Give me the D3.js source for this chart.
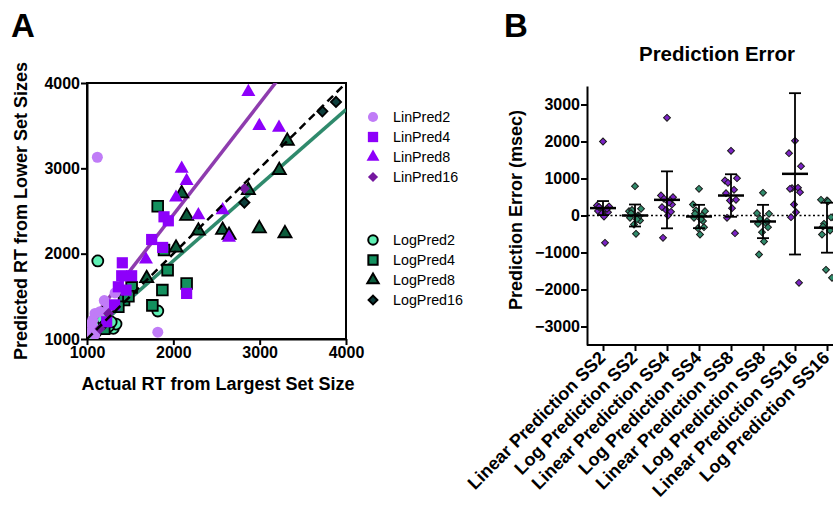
<!DOCTYPE html>
<html><head><meta charset="utf-8">
<script src="https://cdn.jsdelivr.net/npm/d3@7"></script>
<style>
body{margin:0;background:#fff;}
svg{display:block;font-family:"Liberation Sans",Arial,Helvetica,sans-serif;}
</style></head>
<body><svg id="c" width="833" height="509"></svg>
<script>
// ---------- Panel A data ----------
const tickA = [1000, 2000, 3000, 4000];
const linPred2X = [1120,1820,1200,1325,1093,1066,1073,1050,1150,1090,1030,1250];
const linPred2Y = [3130,1080,1450,1540,1300,1220,1125,1180,1320,1050,1080,1380];
const linPred4X = [1409,1402,1517,1363,1452,1749,1892,1942,1876,2154,1228,1320];
const linPred4Y = [1893,1741,1741,1612,1573,2166,2432,2385,2073,1534,1202,1400];
const linPred8X = [2869,2996,3224,2097,2154,2031,2290,2571,2645,1683];
const linPred8Y = [3895,3497,3477,2997,2853,2658,2451,2510,2186,1932];
const linPred16X = [2823,1150,1250];
const linPred16Y = [2764,1120,1300];
const logPred2X = [1125,1820,1209,1305,1336,1073,1150,1250,1100,1180,1050,1280];
const logPred2Y = [1915,1328,1319,1125,1175,995,1180,1150,1080,1230,1050,1200];
const logPred4X = [1819,1892,1934,2154,1873,1757,1517,1429,1363,1200,1480];
const logPred4Y = [2556,2042,1807,1651,1573,1394,1605,1456,1378,1120,1500];
const logPred8X = [3320,3227,2869,2097,2154,2290,2571,2645,2996,3293,2031,1691];
const logPred8Y = [3321,2978,2743,2705,2440,2268,2276,2217,2295,2237,2069,1710];
const logPred16X = [3884,3726,2823,1200,1100];
const logPred16Y = [3778,3668,2599,1180,1060];
// fit lines: [intercept at x=1000, slope]
const linFit = [1150, 1.306];
const logFit = [1030, 0.886];
const seriesNames = ["LinPred2","LinPred4","LinPred8","LinPred16","LogPred2","LogPred4","LogPred8","LogPred16"];

// ---------- Panel B data ----------
const categoriesB = ["Linear Prediction SS2","Log Prediction SS2","Linear Prediction SS4","Log Prediction SS4","Linear Prediction SS8","Log Prediction SS8","Linear Prediction SS16","Log Prediction SS16"];
const errLinSS2 = [2000,270,243,200,160,120,90,60,-27,230,180,-739];
const errLogSS2 = [793,117,180,150,0,-60,-135,-243,-495,60,-20,-100];
const errLinSS4 = [2640,540,495,450,405,225,300,150,0,-604,100,350];
const errLogSS4 = [720,297,117,135,0,-63,-315,-342,-514,50,-150,-100];
const errLinSS8 = [1748,946,1009,883,694,604,423,405,198,-63,-477];
const errLogSS8 = [613,63,45,-90,-207,-225,-315,-450,-703,-1054,-150];
const errLinSS16 = [2018,1685,1333,739,748,721,630,297,90,-45,-1820];
const errLogSS16 = [405,423,-45,-225,-405,-514,-1685,-1468,380,-300,-50];
const meansB = [200,0,423,-27,540,-162,1126,-330];
const errBarB = [190,297,770,315,575,450,2180,675];
const tickB = [-3000,-2000,-1000,0,1000,2000,3000];

const svg = d3.select("#c");
const fmt = d3.format("d");

// ================= Panel A =================
const xA = d3.scaleLinear().domain([1000,4000]).range([87,346]);
const yA = d3.scaleLinear().domain([1000,4000]).range([339,83]);

svg.append("text").attr("x",11).attr("y",37).attr("font-size",33).attr("font-weight","bold")
  .attr("font-family","'Liberation Sans Narrow','Arial Narrow','Liberation Sans',sans-serif").text("A");
svg.append("text").attr("x",504).attr("y",37).attr("font-size",33).attr("font-weight","bold")
  .attr("font-family","'Liberation Sans Narrow','Arial Narrow','Liberation Sans',sans-serif").text("B");

svg.append("clipPath").attr("id","clipA").append("rect")
  .attr("x",87).attr("y",83).attr("width",259).attr("height",256);

const gA = svg.append("g");
gA.append("rect").attr("x",87).attr("y",83).attr("width",259).attr("height",256)
  .attr("fill","none").attr("stroke","#000").attr("stroke-width",2);

const axL = gA.append("g").attr("transform","translate(87,0)")
  .call(d3.axisLeft(yA).tickValues(tickA).tickFormat(fmt).tickSize(6).tickSizeOuter(0).tickPadding(1));
const axB = gA.append("g").attr("transform","translate(0,339)")
  .call(d3.axisBottom(xA).tickValues(tickA).tickFormat(fmt).tickSize(6).tickSizeOuter(0).tickPadding(2));
[axL,axB].forEach(a=>{
  a.select(".domain").attr("stroke-width",2);
  a.selectAll(".tick line").attr("stroke-width",2);
  a.selectAll(".tick text").attr("font-size",16).attr("font-weight","bold").attr("fill","#000")
   .attr("font-family","'Liberation Sans',Arial,sans-serif");
});

svg.append("text").attr("transform","translate(27,211) rotate(-90)").attr("text-anchor","middle")
  .attr("font-size",18).attr("font-weight","bold").text("Predicted RT from Lower Set Sizes");
svg.append("text").attr("x",218).attr("y",390).attr("text-anchor","middle")
  .attr("font-size",18).attr("font-weight","bold").text("Actual RT from Largest Set Size");

const plotA = gA.append("g").attr("clip-path","url(#clipA)");
const fitLine = (f)=>[[1000,f[0]],[4000,f[0]+3000*f[1]]];
const lineA = d3.line().x(d=>xA(d[0])).y(d=>yA(d[1]));
plotA.append("path").attr("d",lineA(fitLine(linFit))).attr("stroke","#8e3cae").attr("stroke-width",3.5).attr("fill","none");
plotA.append("path").attr("d",lineA(fitLine(logFit))).attr("stroke","#2f8a6c").attr("stroke-width",3.5).attr("fill","none");

const seriesA = [
  {n:"LogPred2", x:logPred2X, y:logPred2Y, sym:d3.symbolCircle, size:95, fill:"#5ff0b4", stroke:"#000", rot:0},
  {n:"LogPred4", x:logPred4X, y:logPred4Y, sym:d3.symbolSquare, size:115, fill:"#13905e", stroke:"#000", rot:0},
  {n:"LogPred8", x:logPred8X, y:logPred8Y, sym:d3.symbolTriangle, size:75, fill:"#0c5c3c", stroke:"#000", rot:0},
  {n:"LogPred16", x:logPred16X, y:logPred16Y, sym:d3.symbolSquare, size:52, fill:"#0d3d3b", stroke:"#000", rot:45},
  {n:"LinPred2", x:linPred2X, y:linPred2Y, sym:d3.symbolCircle, size:95, fill:"#c07cf7", stroke:"none", rot:0},
  {n:"LinPred4", x:linPred4X, y:linPred4Y, sym:d3.symbolSquare, size:125, fill:"#8d00fa", stroke:"none", rot:0},
  {n:"LinPred8", x:linPred8X, y:linPred8Y, sym:d3.symbolTriangle, size:85, fill:"#8d00fa", stroke:"none", rot:0},
  {n:"LinPred16", x:linPred16X, y:linPred16Y, sym:d3.symbolSquare, size:60, fill:"#75189f", stroke:"none", rot:45}
];
seriesA.forEach(s=>{
  plotA.append("g").selectAll("path").data(s.x.map((v,i)=>[v,s.y[i]])).join("path")
    .attr("d",d3.symbol(s.sym,s.size))
    .attr("transform",d=>`translate(${xA(d[0])},${yA(d[1])}) rotate(${s.rot})`)
    .attr("fill",s.fill).attr("stroke",s.stroke).attr("stroke-width",1.8);
});
plotA.append("path").attr("d",lineA([[1000,1000],[4000,4000]])).attr("stroke","#000")
  .attr("stroke-width",2.5).attr("stroke-dasharray","8,5").attr("fill","none");

// legend
const legOrder = ["LinPred2","LinPred4","LinPred8","LinPred16","LogPred2","LogPred4","LogPred8","LogPred16"];
const legY = [117,137,157,177,240,260,280,300];
legOrder.forEach((nm,i)=>{
  const s = seriesA.find(q=>q.n===nm);
  const g = svg.append("g").attr("transform",`translate(373,${legY[i]})`);
  const small = s.stroke==="none" ? 0.85 : 0.75;
  g.append("path").attr("d",d3.symbol(s.sym,s.size*small)).attr("transform",`rotate(${s.rot})`)
    .attr("fill",s.fill).attr("stroke",s.stroke).attr("stroke-width",2);
  g.append("text").attr("x",20).attr("y",5).attr("font-size",14.3).text(nm);
});

// ================= Panel B =================
const xB = d3.scalePoint().domain(categoriesB).range([603,827]);
const yB = d3.scaleLinear().domain([-3500,3500]).range([345,86]);

svg.append("text").attr("x",717).attr("y",61).attr("text-anchor","middle").attr("font-size",20.5)
  .attr("font-weight","bold").text("Prediction Error");
svg.append("text").attr("transform","translate(522,210) rotate(-90)").attr("text-anchor","middle")
  .attr("font-size",18).attr("font-weight","bold").text("Prediction Error (msec)");

const axLB = svg.append("g").attr("transform","translate(587,0)")
  .call(d3.axisLeft(yB).tickValues(tickB).tickFormat(fmt).tickSize(6).tickSizeOuter(0).tickPadding(1));
const axBB = svg.append("g").attr("transform","translate(0,345)")
  .call(d3.axisBottom(xB).tickSize(6).tickSizeOuter(0));
axBB.select(".domain").attr("d","M587,0H843");
[axLB,axBB].forEach(a=>{
  a.select(".domain").attr("stroke-width",2);
  a.selectAll(".tick line").attr("stroke-width",2);
  a.selectAll(".tick text").attr("font-size",16).attr("font-weight","bold").attr("fill","#000")
   .attr("font-family","'Liberation Sans',Arial,sans-serif");
});
axBB.selectAll(".tick text").attr("text-anchor","end").attr("font-size",18)
  .attr("x",0).attr("y",0).attr("dy",0).attr("transform","translate(3,14) rotate(-45)");

// zero line
svg.append("line").attr("x1",588).attr("x2",833).attr("y1",yB(0)).attr("y2",yB(0))
  .attr("stroke","#000").attr("stroke-width",1.5).attr("stroke-dasharray","2,2.5");

const dataB = [errLinSS2,errLogSS2,errLinSS4,errLogSS4,errLinSS8,errLogSS8,errLinSS16,errLogSS16];
const jitter = [0,-6,6,-3,3,-5,5,-1,1,-4,4,2];
const gB = svg.append("g");
dataB.forEach((arr,ci)=>{
  const cx = xB(categoriesB[ci]);
  const isLin = ci%2===0;
  gB.append("g").selectAll("path").data(arr).join("path")
    .attr("d",d3.symbol(d3.symbolSquare,24))
    .attr("transform",(d,i)=>`translate(${cx+jitter[i%jitter.length]},${yB(d)}) rotate(45)`)
    .attr("fill",isLin?"#7b22c6":"#2f8b6b").attr("stroke","#1a1a1a").attr("stroke-width",1);
  const m = meansB[ci], e = errBarB[ci];
  gB.append("line").attr("x1",cx).attr("x2",cx).attr("y1",yB(m+e)).attr("y2",yB(m-e)).attr("stroke","#000").attr("stroke-width",1.8);
  [m+e,m-e].forEach(v=>gB.append("line").attr("x1",cx-6).attr("x2",cx+6).attr("y1",yB(v)).attr("y2",yB(v)).attr("stroke","#000").attr("stroke-width",1.8));
  gB.append("line").attr("x1",cx-13).attr("x2",cx+13).attr("y1",yB(m)).attr("y2",yB(m)).attr("stroke","#000").attr("stroke-width",2.5);
});
</script></body></html>
